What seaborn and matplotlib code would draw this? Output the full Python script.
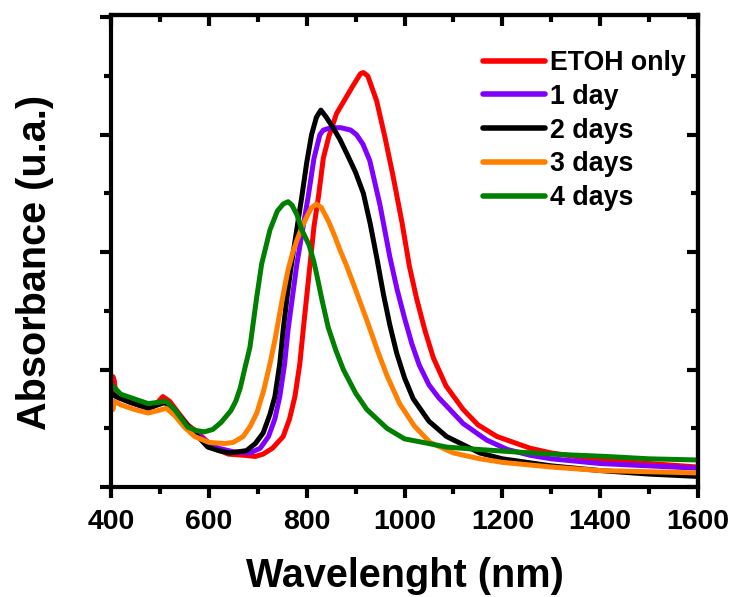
import numpy as np
import pandas as pd
import matplotlib
matplotlib.use("Agg")
import matplotlib.pyplot as plt
from matplotlib.ticker import MultipleLocator
import seaborn as sns

# Absorption spectra (wavelength in nm, absorbance in arbitrary units)
etoh_wl = [400, 404, 407, 410, 440, 476, 495, 506, 520, 540, 557, 575, 591, 610,
           640, 673, 695, 711, 730, 752, 765, 776, 786, 793, 800, 807, 815, 824,
           834, 845, 861, 878, 895, 910, 916, 925, 943, 960, 977, 995, 1010, 1025,
           1042, 1059, 1085, 1120, 1150, 1189, 1257, 1300, 1400, 1500, 1600]
etoh_abs = [0.80, 0.94, 0.90, 0.78, 0.74, 0.68, 0.72, 0.77, 0.73, 0.62, 0.53, 0.47,
            0.41, 0.33, 0.28, 0.27, 0.26, 0.28, 0.33, 0.43, 0.58, 0.77, 1.05, 1.34,
            1.62, 1.90, 2.22, 2.47, 2.80, 2.98, 3.18, 3.30, 3.42, 3.52, 3.53, 3.50,
            3.29, 2.98, 2.64, 2.25, 1.88, 1.60, 1.33, 1.10, 0.86, 0.66, 0.53, 0.43,
            0.33, 0.29, 0.23, 0.20, 0.17]

day1_wl = [400, 410, 440, 476, 495, 510, 525, 557, 591, 620, 650, 684, 705, 722,
           735, 745, 755, 762, 771, 780, 792, 803, 815, 827, 834, 850, 870, 890,
           902, 915, 929, 950, 970, 985, 1000, 1015, 1030, 1050, 1070, 1086, 1120,
           1168, 1210, 1257, 1300, 1400, 1500, 1600]
day1_abs = [0.80, 0.77, 0.72, 0.67, 0.70, 0.72, 0.68, 0.52, 0.40, 0.33, 0.30, 0.29,
            0.33, 0.43, 0.58, 0.77, 1.05, 1.34, 1.62, 1.90, 2.20, 2.47, 2.80, 3.00,
            3.04, 3.06, 3.06, 3.04, 3.00, 2.92, 2.78, 2.40, 1.96, 1.68, 1.44, 1.22,
            1.04, 0.87, 0.76, 0.69, 0.54, 0.40, 0.32, 0.27, 0.24, 0.20, 0.18, 0.16]

day2_wl = [400, 410, 440, 476, 495, 510, 525, 557, 598, 620, 643, 660, 677, 695,
           711, 725, 735, 745, 752, 760, 769, 780, 790, 800, 810, 820, 829, 840,
           854, 868, 882, 900, 916, 930, 943, 957, 970, 984, 1000, 1018, 1050,
           1086, 1154, 1200, 1300, 1400, 1500, 1600]
day2_abs = [0.80, 0.77, 0.72, 0.67, 0.70, 0.72, 0.68, 0.52, 0.34, 0.31, 0.29, 0.30,
            0.31, 0.37, 0.46, 0.62, 0.77, 1.05, 1.34, 1.62, 1.90, 2.20, 2.47, 2.76,
            3.00, 3.15, 3.21, 3.15, 3.06, 2.96, 2.84, 2.68, 2.50, 2.24, 1.96, 1.64,
            1.38, 1.14, 0.93, 0.75, 0.56, 0.43, 0.29, 0.24, 0.18, 0.14, 0.11, 0.09]

day3_wl = [400, 404, 407, 420, 448, 476, 495, 513, 530, 550, 571, 600, 632, 650,
           670, 685, 698, 712, 725, 735, 745, 753, 762, 771, 780, 790, 800, 810,
           820, 830, 845, 858, 868, 882, 900, 923, 945, 964, 990, 1020, 1052, 1100,
           1154, 1200, 1300, 1400, 1500, 1600]
day3_abs = [0.72, 0.66, 0.73, 0.70, 0.66, 0.63, 0.65, 0.67, 0.61, 0.51, 0.43, 0.38,
            0.37, 0.38, 0.43, 0.52, 0.63, 0.82, 1.05, 1.25, 1.48, 1.66, 1.85, 1.99,
            2.10, 2.21, 2.30, 2.38, 2.41, 2.38, 2.26, 2.13, 2.02, 1.88, 1.68, 1.42,
            1.16, 0.95, 0.71, 0.52, 0.38, 0.29, 0.24, 0.21, 0.17, 0.14, 0.13, 0.12]

day4_wl = [400, 404, 420, 448, 476, 495, 513, 530, 557, 575, 591, 608, 625, 645,
           655, 664, 673, 684, 698, 708, 718, 725, 740, 752, 762, 770, 780, 790,
           805, 814, 820, 832, 844, 860, 875, 900, 923, 964, 1000, 1050, 1086,
           1150, 1222, 1300, 1413, 1500, 1600]
day4_abs = [0.83, 0.86, 0.79, 0.75, 0.71, 0.72, 0.73, 0.66, 0.51, 0.48, 0.47, 0.49,
            0.55, 0.65, 0.73, 0.84, 1.00, 1.19, 1.62, 1.90, 2.07, 2.19, 2.35, 2.41,
            2.43, 2.40, 2.32, 2.19, 2.06, 1.93, 1.82, 1.58, 1.36, 1.16, 1.00, 0.80,
            0.66, 0.50, 0.41, 0.37, 0.34, 0.32, 0.30, 0.28, 0.26, 0.24, 0.23]

labels = ["ETOH only", "1 day", "2 days", "3 days", "4 days"]
colors = ["#FF0000", "#8000FF", "#000000", "#FF8000", "#008000"]
x_ticks = [400, 600, 800, 1000, 1200, 1400, 1600]

series = [(etoh_wl, etoh_abs), (day1_wl, day1_abs), (day2_wl, day2_abs),
          (day3_wl, day3_abs), (day4_wl, day4_abs)]
frames = [pd.DataFrame({"wavelength": wl, "absorbance": ab, "sample": lab})
          for (wl, ab), lab in zip(series, labels)]
df = pd.concat(frames, ignore_index=True)

sns.set_style("ticks")
plt.rcParams["font.family"] = ["Liberation Sans", "DejaVu Sans"]
plt.rcParams["font.weight"] = "bold"
for key in ["text.color", "axes.labelcolor", "xtick.color", "ytick.color",
            "axes.edgecolor"]:
    plt.rcParams[key] = "black"

fig = plt.figure(figsize=(7.34, 5.97), dpi=100)
ax = fig.add_axes([111 / 734, 1 - 487 / 597, 587 / 734, 472 / 597])

sns.lineplot(data=df, x="wavelength", y="absorbance", hue="sample",
             hue_order=labels, palette=colors, sort=False, estimator=None,
             linewidth=3.6, ax=ax)
for line in ax.get_lines():
    line.set_solid_joinstyle("round")
    line.set_solid_capstyle("round")

ax.set_xlim(400, 1600)
ax.set_ylim(0, 4.02)
ax.set_xticks(x_ticks)
ax.set_xticklabels([str(t) for t in x_ticks], fontsize=20.5, fontweight="bold",
                   color="black")
ax.xaxis.set_minor_locator(MultipleLocator(100))
ax.yaxis.set_major_locator(MultipleLocator(1))
ax.yaxis.set_minor_locator(MultipleLocator(0.5))
ax.set_yticklabels([])

ax.tick_params(axis="both", which="major", direction="out", length=8, width=3,
               pad=8, color="black")
ax.tick_params(axis="both", which="minor", direction="out", length=5, width=3,
               color="black")

for side in ["left", "right", "top", "bottom"]:
    ax.spines[side].set_linewidth(3)
    ax.spines[side].set_color("black")

# mirrored inward ticks on the top and right edges
top = ax.secondary_xaxis("top")
top.set_xticks(x_ticks)
top.xaxis.set_minor_locator(MultipleLocator(100))
top.tick_params(which="major", direction="in", length=8, width=3, labeltop=False,
                color="black")
top.tick_params(which="minor", direction="in", length=5, width=3, color="black")
top.spines["top"].set_linewidth(3)
top.spines["top"].set_color("black")

right = ax.secondary_yaxis("right")
right.yaxis.set_major_locator(MultipleLocator(1))
right.yaxis.set_minor_locator(MultipleLocator(0.5))
right.tick_params(which="major", direction="in", length=8, width=3,
                  labelright=False, color="black")
right.tick_params(which="minor", direction="in", length=5, width=3, color="black")
right.spines["right"].set_linewidth(3)
right.spines["right"].set_color("black")

ax.set_xlabel("Wavelenght (nm)", fontsize=28.5, fontweight="bold", labelpad=16,
              color="black")
ax.set_ylabel("Absorbance (u.a.)", fontsize=28.5, fontweight="bold", color="black")
ax.yaxis.set_label_coords(-0.097, 0.475)

handles, _ = ax.get_legend_handles_labels()
for h in handles:
    h.set_linewidth(4)
    h.set_solid_capstyle("round")
leg = ax.legend(handles, labels, loc="upper left",
                bbox_to_anchor=(483 / 734, 1 - 50 / 597),
                bbox_transform=fig.transFigure, frameon=False,
                prop={"size": 19.3, "weight": "bold"}, handlelength=2.3,
                handletextpad=0.2, labelspacing=0.29, borderpad=0,
                borderaxespad=0)
for t in leg.get_texts():
    t.set_color("black")

fig.savefig("out.png", dpi=100)
